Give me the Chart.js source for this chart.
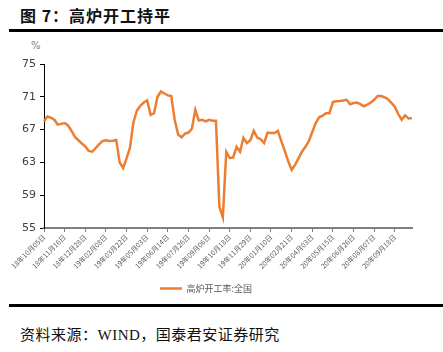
<!DOCTYPE html>
<html>
<head>
<meta charset="utf-8">
<script src="https://cdn.jsdelivr.net/npm/chart.js@4"></script>
<style>
    body {margin: 0; width: 443px; height: 352px; background: #fff; position: relative; overflow: hidden;}
    #titulo {position: absolute; left: 20px; top: 3px; font: bold 16px "Noto Sans CJK SC"; letter-spacing: 1px; color: #111;}
    .raya {position: absolute; left: 9px; right: 0; height: 3px; background: #000;}
    #unidad {position: absolute; left: 31px; top: 40px; font: 10px "DejaVu Sans"; color: #808080;}
    #fuente {position: absolute; left: 20px; top: 323px; font: 15px "Liberation Serif", "Noto Sans CJK SC"; letter-spacing: 0.5px; color: #111;}
    #lienzo {position: absolute; left: 0; top: 35px;}
</style>
</head>
<body>
<div id="titulo">图 7：高炉开工持平</div>
<div class="raya" style="top: 29px;"></div>
<div id="unidad">%</div>
<div id="lienzo"><canvas id="grafico" width="443" height="268"></canvas></div>
<div class="raya" style="top: 304px;"></div>
<div id="fuente">资料来源：WIND，国泰君安证券研究</div>

<script>
// Etiquetas del eje X (una cada 6 semanas)
const etiquetas = [
    "18年10月05日", "18年11月16日", "18年12月28日", "19年02月08日", "19年03月22日", "19年05月03日",
    "19年06月14日", "19年07月26日", "19年09月06日", "19年10月18日", "19年11月29日", "20年01月10日",
    "20年02月21日", "20年04月03日", "20年05月15日", "20年06月26日", "20年08月07日", "20年09月18日"
];
const semanasPorEtiqueta = 6;

// Tasa de utilización de altos hornos: nacional (%), semanal
const tasaAltosHornos = [
    68.0, 68.6, 68.45, 68.2, 67.6, 67.7, 67.8, 67.5, 66.85, 66.1,
    65.7, 65.3, 64.95, 64.4, 64.3, 64.75, 65.2, 65.6, 65.7, 65.6,
    65.65, 65.74, 63.0, 62.3, 63.5, 64.8, 67.9, 69.3, 69.9, 70.3,
    70.56, 68.8, 69.0, 71.0, 71.65, 71.4, 71.17, 71.1, 68.2, 66.4,
    66.05, 66.5, 66.64, 67.1, 69.4, 68.1, 68.2, 68.0, 68.2, 68.09,
    68.09, 57.6, 56.3, 64.3, 63.56, 63.6, 64.9, 64.3, 66.0, 65.35,
    65.7, 66.85, 66.03, 65.83, 65.35, 66.64, 66.6, 66.6, 66.85, 65.6,
    64.4, 63.15, 62.1, 62.7, 63.5, 64.3, 64.9, 65.6, 66.7, 67.8,
    68.5, 68.7, 69.0, 69.0, 70.35, 70.45, 70.5, 70.56, 70.64, 70.1,
    70.25, 70.3, 70.1, 69.85, 70.05, 70.3, 70.64, 71.1, 71.1, 70.95,
    70.7, 70.25, 69.8, 68.9, 68.2, 68.75, 68.35, 68.4
];

const ejeY = {min: 55, max: 75, paso: 4};

// Categorías: la etiqueta cada 6 semanas, vacío en medio
const categorias = tasaAltosHornos.map((v, i) =>
    i % semanasPorEtiqueta === 0 ? (etiquetas[i / semanasPorEtiqueta] || "") : "");

const naranja = "#ED7D31";

new Chart(
    document.getElementById("grafico"),
    {
        type: "line",
        data: {
            labels: categorias,
            datasets: [{
                label: "高炉开工率:全国",
                data: tasaAltosHornos,
                borderColor: naranja,
                backgroundColor: naranja,
                borderWidth: 2.5,
                pointRadius: 0,
                tension: 0
            }]
        },
        options: {
            responsive: false,
            animation: false,
            layout: {padding: {top: 29, right: 31, left: 0, bottom: 0}},
            plugins: {
                tooltip: {enabled: false},
                legend: {
                    position: "bottom",
                    labels: {
                        usePointStyle: true,
                        pointStyle: "line",
                        pointStyleWidth: 22,
                        color: "#595959",
                        font: {family: "Noto Sans CJK SC", size: 9},
                        padding: 6
                    }
                }
            },
            scales: {
                x: {
                    offset: false,
                    afterFit: (eje) => {eje.height = 50;},
                    border: {color: "#808080", width: 2},
                    grid: {
                        drawOnChartArea: false,
                        tickLength: 4,
                        color: (ctx) => ctx.index % semanasPorEtiqueta === 0 ? "#808080" : "rgba(0,0,0,0)"
                    },
                    ticks: {
                        autoSkip: false,
                        maxRotation: 45,
                        minRotation: 45,
                        padding: 1,
                        color: "#595959",
                        font: {family: "Noto Sans CJK SC", size: 7}
                    }
                },
                y: {
                    min: ejeY.min,
                    max: ejeY.max,
                    afterFit: (eje) => {eje.width = 44;},
                    border: {color: "#000", width: 1},
                    grid: {drawOnChartArea: false, tickLength: 4, color: "#000"},
                    ticks: {
                        stepSize: ejeY.paso,
                        padding: 4,
                        color: "#404040",
                        font: {family: "DejaVu Sans", size: 11}
                    }
                }
            }
        }
    }
);
</script>
</body>
</html>
